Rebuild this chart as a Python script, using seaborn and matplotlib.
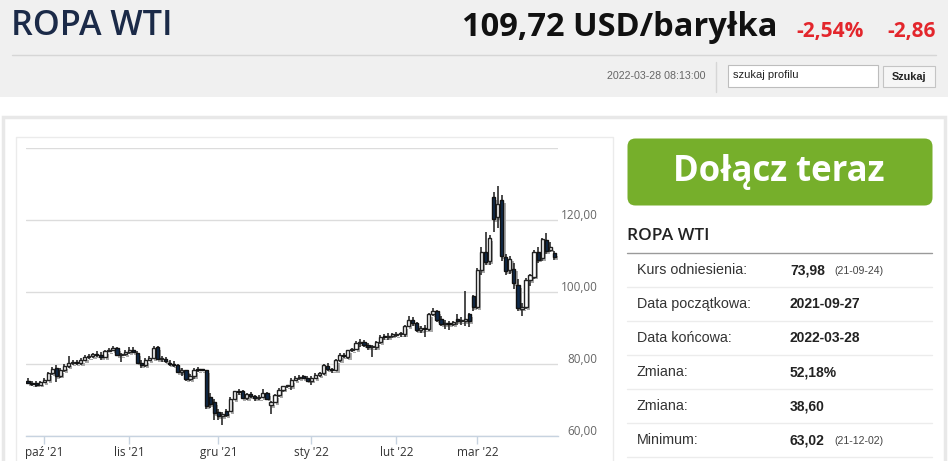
import numpy as np
import pandas as pd
import matplotlib
matplotlib.use("Agg")
import matplotlib.pyplot as plt
from matplotlib.patches import Rectangle, FancyBboxPatch
from matplotlib.transforms import ScaledTranslation
import seaborn as sns

# ---- data ----
dates = pd.bdate_range("2021-09-27", "2022-03-28")

open_ = [75.2, 74.6, 74.5, 74.3, 74.9, 75.6, 77.4, 78.9, 76.8, 78.4,
         79.4, 80.2, 80.5, 80.2, 81.2, 82.0, 82.3, 82.8, 82.4, 82.0,
         83.6, 83.9, 84.4, 82.5, 82.7, 83.4, 84.0, 83.0, 80.4, 79.8,
         81.0, 81.6, 84.6, 81.3, 81.5, 80.4, 80.0, 79.6, 77.8, 78.2,
         75.9, 76.6, 78.4, 78.3, 78.2, 70.9, 69.5, 66.8, 65.6, 67.0,
         67.0, 70.3, 72.4, 72.4, 70.6, 71.8, 71.0, 70.5, 70.9, 71.9,
         68.5, 69.5, 71.3, 72.9, 73.8, 73.9, 75.6, 76.1, 76.6, 76.2,
         75.4, 76.2, 76.9, 77.4, 79.4, 78.5, 78.3, 81.1, 82.6, 81.9,
         83.8, 84.1, 85.9, 86.2, 85.3, 84.6, 84.7, 86.0, 87.6, 87.4,
         87.9, 88.1, 88.2, 88.2, 90.5, 92.3, 91.4, 89.5, 89.9, 89.6,
         93.9, 94.6, 92.4, 91.0, 91.5, 91.2, 92.6, 91.9, 92.0, 93.8,
         98.8, 95.8, 106.2, 111.0, 108.5, 126.3, 120.7, 125.5, 109.6, 106.2,
         106.5, 102.0, 95.4, 95.9, 103.2, 104.3, 111.0, 109.4, 114.4, 111.8,
         110.8]
high = [76.2, 75.4, 75.2, 75.3, 76.0, 77.9, 79.3, 79.8, 78.8, 80.0,
        82.2, 81.2, 81.0, 81.6, 82.4, 82.9, 83.1, 83.7, 83.2, 84.0,
        84.5, 85.0, 84.6, 83.1, 83.8, 84.6, 84.8, 83.6, 81.0, 81.6,
        82.3, 84.9, 84.9, 82.3, 82.0, 81.0, 80.8, 80.0, 79.0, 78.4,
        77.3, 78.9, 79.1, 78.6, 78.3, 72.0, 70.3, 67.6, 66.8, 67.6,
        70.8, 72.6, 73.0, 72.8, 72.0, 72.1, 71.3, 71.4, 73.0, 72.2,
        69.8, 71.6, 73.2, 74.0, 74.2, 76.0, 76.8, 76.9, 77.0, 76.8,
        76.6, 77.5, 77.9, 80.0, 80.2, 79.0, 81.4, 83.0, 83.0, 84.0,
        84.5, 86.4, 86.9, 86.7, 85.8, 85.2, 86.3, 88.0, 88.3, 88.5,
        88.7, 88.9, 88.8, 90.8, 93.2, 93.0, 91.6, 90.6, 90.9, 94.2,
        95.5, 94.9, 93.3, 92.2, 92.0, 91.9, 94.0, 93.0, 100.4, 94.2,
        99.2, 106.8, 112.5, 116.6, 115.8, 127.7, 129.4, 127.0, 110.6, 110.0,
        108.0, 103.6, 97.0, 103.8, 105.0, 111.6, 112.5, 115.0, 116.5, 113.8,
        111.4]
low = [74.4, 74.0, 73.6, 74.0, 74.6, 75.2, 77.0, 75.0, 76.2, 77.9,
       79.0, 79.6, 79.7, 79.8, 80.9, 81.3, 81.8, 81.9, 81.0, 81.8,
       83.2, 83.7, 82.1, 80.6, 82.2, 82.8, 83.2, 80.2, 79.0, 79.3,
       80.7, 81.4, 81.0, 80.5, 80.2, 79.5, 79.2, 77.4, 76.8, 75.4,
       75.4, 75.8, 77.8, 78.0, 67.4, 67.8, 64.4, 64.4, 63.0, 65.2,
       66.6, 70.0, 71.4, 70.2, 70.1, 70.6, 69.8, 69.9, 70.6, 70.0,
       66.2, 69.1, 70.9, 72.3, 73.4, 72.8, 75.3, 75.6, 75.8, 75.2,
       74.3, 75.7, 76.4, 76.9, 78.1, 77.6, 78.1, 80.6, 81.7, 81.3,
       83.4, 83.8, 84.7, 84.6, 83.9, 81.9, 83.8, 85.6, 86.8, 86.6,
       87.2, 87.4, 87.5, 87.6, 90.2, 90.6, 88.8, 88.6, 87.6, 89.2,
       93.4, 91.8, 90.6, 89.8, 89.4, 90.6, 90.8, 90.8, 90.6, 90.4,
       94.6, 95.2, 104.8, 107.5, 107.6, 116.6, 117.8, 108.6, 104.7, 105.0,
       100.8, 94.8, 93.3, 95.2, 101.8, 103.6, 108.0, 108.6, 110.6, 111.0,
       109.0]
close = [74.6, 74.5, 74.3, 74.9, 75.6, 77.4, 78.6, 76.6, 78.4, 79.4,
         80.2, 80.5, 80.2, 81.2, 82.0, 82.3, 82.8, 82.4, 82.0, 83.6,
         83.9, 84.4, 82.5, 82.7, 83.4, 84.0, 83.4, 80.4, 79.8, 81.0,
         81.6, 84.4, 81.3, 81.5, 80.8, 80.0, 79.6, 77.8, 78.3, 75.9,
         76.8, 78.4, 78.3, 78.2, 68.2, 68.9, 66.3, 65.6, 66.2, 65.8,
         70.3, 72.4, 72.1, 70.6, 71.6, 71.0, 70.5, 70.9, 71.9, 70.4,
         69.5, 71.3, 72.9, 73.8, 73.9, 75.6, 76.1, 76.5, 76.0, 75.4,
         76.2, 76.9, 77.6, 79.6, 78.5, 78.3, 81.1, 82.6, 82.1, 83.8,
         84.1, 85.9, 86.2, 85.3, 84.6, 84.9, 86.0, 87.6, 87.4, 87.9,
         88.1, 88.2, 88.4, 90.5, 92.3, 91.4, 89.5, 89.9, 89.6, 93.9,
         94.6, 92.3, 91.0, 91.5, 91.2, 91.6, 91.9, 92.3, 92.6, 92.0,
         95.8, 106.2, 111.0, 108.2, 115.1, 120.2, 124.4, 109.9, 105.7, 109.3,
         102.6, 95.6, 95.9, 103.4, 104.6, 111.0, 109.0, 114.6, 111.3, 112.6,
         109.7]

month_labels = ["paź '21", "lis '21", "gru '21", "sty '22", "lut '22", "mar '22"]
y_ticks = [60, 80, 100, 120, 140]

stats_labels = ["Kurs odniesienia:", "Data początkowa:", "Data końcowa:",
                "Zmiana:", "Zmiana:", "Minimum:"]
stats_values = ["73,98", "2021-09-27", "2022-03-28", "52,18%", "38,60", "63,02"]
stats_notes = ["(21-09-24)", "", "", "", "", "(21-12-02)"]

df = pd.DataFrame({"date": dates, "open": open_, "high": high,
                   "low": low, "close": close})
df["x"] = np.arange(len(df))
df["up"] = df["close"] >= df["open"]

# ---- page ----
sns.set_theme(style="white")
plt.rcParams["font.family"] = ["Open Sans", "DejaVu Sans"]
ARIAL = ["Liberation Sans", "DejaVu Sans"]

W, H = 948, 461
fig = plt.figure(figsize=(W / 100, H / 100), dpi=100)
fig.patch.set_facecolor("white")

bg = fig.add_axes([0, 0, 1, 1], zorder=0)
bg.set_xlim(0, W)
bg.set_ylim(H, 0)
bg.axis("off")

# header strip
bg.add_patch(Rectangle((0, 0), W, 97, color="#f0f0f0", lw=0))
bg.plot([12, 936], [55.5, 55.5], color="#d6d6d6", lw=1)
bg.text(11, 26, "ROPA WTI", fontsize=24.6, color="#1b2a48", va="center",
        fontweight="semibold", family=["Open Sans", "DejaVu Sans"])
bg.text(778, 28, "109,72 USD/baryłka", fontsize=23.5, fontweight="bold",
        color="#111111", va="center", ha="right")
bg.text(796, 31, "-2,54%", fontsize=15, fontweight="bold", color="#e3262c",
        va="center")
bg.text(936, 31, "-2,86", fontsize=15, fontweight="bold", color="#e3262c",
        va="center", ha="right")
bg.text(706, 76, "2022-03-28 08:13:00", fontsize=7.7, color="#666666",
        va="center", ha="right", family=ARIAL)
bg.plot([716.5, 716.5], [62, 92], color="#d6d6d6", lw=1)
bg.add_patch(Rectangle((728, 65), 150, 22, facecolor="white",
                       edgecolor="#bdbdbd", lw=0.8))
bg.text(733, 75, "szukaj profilu", fontsize=8, color="#222222", va="center",
        family=ARIAL)
bg.add_patch(Rectangle((883, 66), 52, 21, facecolor="#f6f6f6",
                       edgecolor="#c4c4c4", lw=0.8))
bg.text(909, 76.5, "Szukaj", fontsize=7.8, fontweight="bold", color="#222222",
        va="center", ha="center", family=ARIAL)

# content panel and chart box
bg.add_patch(Rectangle((3, 117), 942, 350, facecolor="white",
                       edgecolor="#e8e8e8", lw=2.5))
bg.add_patch(Rectangle((16, 137), 597, 330, facecolor="white",
                       edgecolor="#ebebeb", lw=1))

# green button
bg.add_patch(FancyBboxPatch((630, 141), 300, 62,
                            boxstyle="round,pad=2.5,rounding_size=8",
                            facecolor="#76af2b", edgecolor="none"))
bg.text(779, 172, "Dołącz teraz", fontsize=25, fontweight="bold",
        color="white", va="center", ha="center")

# stats table
bg.text(627, 236, "ROPA WTI", fontsize=12.6, color="#222222", va="center",
        fontweight="semibold")
bg.plot([627, 932], [252.5, 252.5], color="#9a9a9a", lw=1)
row_y = [270, 304, 338, 372, 406, 440]
for yy, lab, val, note in zip(row_y, stats_labels, stats_values, stats_notes):
    bg.text(637, yy, lab, fontsize=10.3, color="#333333", va="center",
            family=ARIAL)
    bg.text(790, yy, val, fontsize=10, color="#222222", va="center",
            fontweight="bold", family=ARIAL)
    if note:
        bg.text(834, yy + 1, note, fontsize=7.6, color="#444444", va="center",
                family=ARIAL)
    bg.plot([627, 932], [yy + 17, yy + 17], color="#ececec", lw=1)

# ---- candlestick chart ----
ax = fig.add_axes([26 / W, 1 - 436 / H, (558 - 26) / W, (436 - 148) / H],
                  zorder=2)
ax.patch.set_alpha(0)

body_w = 0.8
lo_body = df[["open", "close"]].min(axis=1)
hi_body = df[["open", "close"]].max(axis=1)
body_h = (hi_body - lo_body).clip(lower=0.3)

# soft grey shadow behind the candles
ax.bar(df["x"] + 0.55, body_h, bottom=lo_body - 0.8, width=body_w,
       color="#aaaaaa", lw=0, zorder=1)
ax.vlines(df["x"], df["low"], df["high"], color="#1a1a1a", lw=1.1, zorder=2)
up = df[df["up"]]
dn = df[~df["up"]]
ax.bar(up["x"], body_h[df["up"]], bottom=lo_body[df["up"]], width=body_w,
       facecolor="white", edgecolor="#222222", lw=1, zorder=3)
ax.bar(dn["x"], body_h[~df["up"]], bottom=lo_body[~df["up"]], width=body_w,
       facecolor="#0f2b4c", edgecolor="#111111", lw=1, zorder=3)

ax.set_xlim(-0.5, 130.9)
ax.set_ylim(60, 140)
for s in ["top", "left", "right"]:
    ax.spines[s].set_visible(False)
ax.spines["bottom"].set_color("#c7d3e0")
ax.spines["bottom"].set_linewidth(1)

ax.set_yticks(y_ticks)
ax.yaxis.grid(True, color="#dcdcdc", lw=1)
ax.set_axisbelow(True)
ax.yaxis.tick_right()
ax.tick_params(axis="y", length=0, pad=28.5, labelsize=8.5, labelcolor="#666666")
ax.set_yticklabels([f"{v:.2f}".replace(".", ",") if v < 140 else ""
                    for v in y_ticks])
for lab in ax.get_yticklabels():
    lab.set_horizontalalignment("right")
    lab.set_transform(lab.get_transform() + ScaledTranslation(0, 0.06, fig.dpi_scale_trans))

month_start = df.groupby(df["date"].dt.to_period("M"))["x"].min().values[1:]
ax.set_xticks(month_start)
ax.set_xticklabels(month_labels)
ax.tick_params(axis="x", length=6, width=1, color="#c7d3e0", labelsize=8.5,
               labelcolor="#333333", pad=1, direction="out", bottom=True)
ax.set_xlabel("")
ax.set_ylabel("")

fig.savefig("out.png", dpi=100)
